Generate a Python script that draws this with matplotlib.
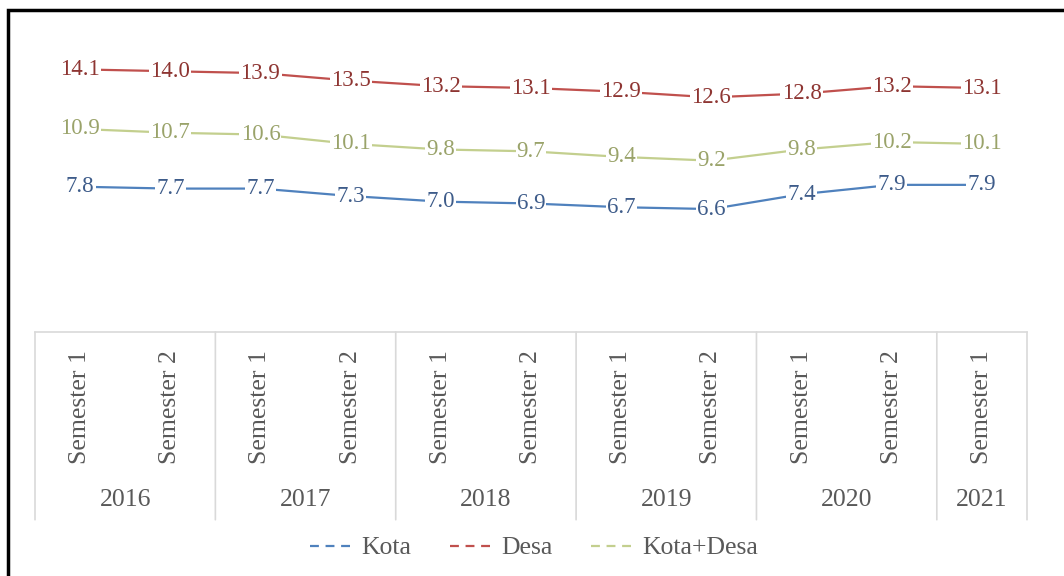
import matplotlib.pyplot as plt
import matplotlib.patches as mpatches
from matplotlib.lines import Line2D

# ── Data ─────────────────────────────────────────────────────────────────────
years = ["2016", "2017", "2018", "2019", "2020", "2021"]
semesters_per_year = [2, 2, 2, 2, 2, 1]
semester_labels = ["Semester 1", "Semester 2"] * 5 + ["Semester 1"]

kota = [7.8, 7.7, 7.7, 7.3, 7.0, 6.9, 6.7, 6.6, 7.4, 7.9, 7.9]
desa = [14.1, 14.0, 13.9, 13.5, 13.2, 13.1, 12.9, 12.6, 12.8, 13.2, 13.1]
kota_desa = [10.9, 10.7, 10.6, 10.1, 9.8, 9.7, 9.4, 9.2, 9.8, 10.2, 10.1]

# ── Style ────────────────────────────────────────────────────────────────────
plt.rcParams["font.family"] = ["Liberation Serif", "DejaVu Serif"]
SERIES = [
    ("Kota", kota, "#4F81BD", "#3E5C8A"),
    ("Desa", desa, "#C0504D", "#8E3532"),
    ("Kota+Desa", kota_desa, "#C3CF8E", "#9AA36A"),
]
AXIS_TEXT = "#595959"
GRID = "#D9D9D9"

fig = plt.figure(figsize=(10.64, 5.76), dpi=100)
ax = fig.add_axes([35 / 1064, (576 - 332) / 576, 992 / 1064, 298 / 576])

x = list(range(len(kota)))
for name, vals, line_c, text_c in SERIES:
    ax.plot(x, vals, color=line_c, linewidth=1.6, zorder=2)
    for xi, v in zip(x, vals):
        ax.text(xi, v, f"{v:.1f}", ha="center", va="center", fontsize=16.5,
                color=text_c, zorder=3,
                bbox=dict(boxstyle="square,pad=0.05", fc="white", ec="none"))

ax.set_xlim(-0.5, len(kota) - 0.5)
ax.set_ylim(0, 16)
ax.set_yticks([])
for s in ax.spines.values():
    s.set_visible(False)

# ── Multi-level category axis ────────────────────────────────────────────────
ax.set_xticks(x)
ax.set_xticklabels(semester_labels, rotation=90, fontsize=18.5, color=AXIS_TEXT,
                   va="top", ha="center")
ax.tick_params(axis="x", length=0, pad=13)

ax.plot([-0.5, len(kota) - 0.5], [0, 0], color=GRID, linewidth=1.2,
        transform=ax.get_xaxis_transform(), clip_on=False)

bounds = [-0.5]
for n in semesters_per_year:
    bounds.append(bounds[-1] + n)
for b in bounds:
    ax.annotate("", xy=(b, 0), xycoords=("data", "axes fraction"),
                xytext=(b, -0.63), textcoords=("data", "axes fraction"),
                arrowprops=dict(arrowstyle="-", color=GRID, linewidth=1.2,
                                shrinkA=0, shrinkB=0))
for yr, lo, hi in zip(years, bounds[:-1], bounds[1:]):
    ax.annotate(yr, xy=((lo + hi) / 2, 0), xycoords=("data", "axes fraction"),
                xytext=(0, -168 * 0.72), textcoords="offset points",
                ha="center", va="center", fontsize=18.5, color=AXIS_TEXT)

# ── Legend ───────────────────────────────────────────────────────────────────
handles = [Line2D([], [], color=c, linewidth=1.6, linestyle=(0, (4, 3)))
           for _, _, c, _ in SERIES]
fig.legend(handles, [s[0] for s in SERIES], loc="center",
           bbox_to_anchor=(534 / 1064, 28 / 576), ncol=3, frameon=False,
           fontsize=18.5, labelcolor=AXIS_TEXT, handlelength=1.8,
           handletextpad=0.2, columnspacing=1.5)

# ── Outer frame (cropped on right and bottom) ────────────────────────────────
fig.patches.append(mpatches.Rectangle((8 / 1064, -0.05), 1.2, (576 - 10) / 576 + 0.05,
                                      transform=fig.transFigure, fill=False,
                                      edgecolor="black", linewidth=2.5))

fig.savefig("out.png", dpi=100, facecolor="white")
